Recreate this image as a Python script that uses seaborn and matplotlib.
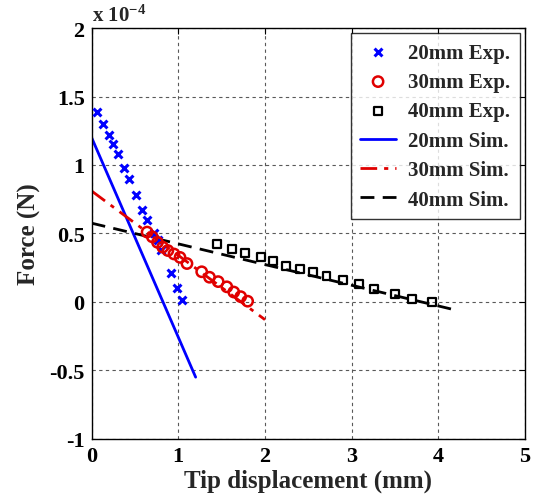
import matplotlib
matplotlib.use("Agg")
import matplotlib.pyplot as plt
import seaborn as sns
import pandas as pd

# Experimental force vs. tip displacement (force in units of 1e-4 N)
x20_exp = [0.065, 0.13, 0.195, 0.245, 0.30, 0.37, 0.43, 0.51, 0.58, 0.64, 0.72, 0.76, 0.80, 0.91, 0.985, 1.04]
f20_exp = [1.39, 1.30, 1.22, 1.15, 1.08, 0.975, 0.90, 0.78, 0.67, 0.595, 0.50, 0.45, 0.38, 0.214, 0.10, 0.015]

x30_exp = [0.64, 0.70, 0.76, 0.82, 0.88, 0.95, 1.02, 1.10, 1.27, 1.36, 1.46, 1.56, 1.64, 1.72, 1.80]
f30_exp = [0.51, 0.475, 0.435, 0.40, 0.375, 0.35, 0.325, 0.28, 0.22, 0.18, 0.148, 0.11, 0.072, 0.038, 0.005]

x40_exp = [1.45, 1.62, 1.77, 1.95, 2.09, 2.24, 2.40, 2.555, 2.71, 2.90, 3.08, 3.26, 3.50, 3.70, 3.93]
f40_exp = [0.423, 0.385, 0.355, 0.326, 0.30, 0.265, 0.238, 0.22, 0.19, 0.16, 0.13, 0.095, 0.058, 0.02, 0.002]

# Simulated (linear) responses
x20_sim = [0.0, 1.2]
f20_sim = [1.20, -0.55]
x30_sim = [0.0, 2.0]
f30_sim = [0.81, -0.13]
x40_sim = [0.0, 4.2]
f40_sim = [0.575, -0.06]

x_ticks = [0, 1, 2, 3, 4, 5]
y_ticks = [-1, -0.5, 0, 0.5, 1, 1.5, 2]
y_tick_labels = ["-1", "-0.5", "0", "0.5", "1", "1.5", "2"]

sns.set_theme(style="white")
plt.rcParams["font.family"] = ["Liberation Serif", "DejaVu Serif"]
plt.rcParams["font.weight"] = "bold"
plt.rcParams["mathtext.fontset"] = "custom"
plt.rcParams["mathtext.rm"] = "Liberation Serif:bold"
plt.rcParams["mathtext.it"] = "Liberation Serif:bold"
plt.rcParams["mathtext.bf"] = "Liberation Serif:bold"

exp = pd.concat([
    pd.DataFrame({"x": x20_exp, "f": f20_exp, "s": "20mm Exp."}),
    pd.DataFrame({"x": x30_exp, "f": f30_exp, "s": "30mm Exp."}),
    pd.DataFrame({"x": x40_exp, "f": f40_exp, "s": "40mm Exp."}),
])
sim = {
    "20mm Sim.": (x20_sim, f20_sim, "#0000ff", "-"),
    "30mm Sim.": (x30_sim, f30_sim, "#e00000", (0, (6, 2.5, 1.5, 2.5))),
    "40mm Sim.": (x40_sim, f40_sim, "black", (0, (5, 3))),
}

fig = plt.figure(figsize=(5.39, 5.02), dpi=100)
ax = fig.add_axes([0.170, 0.124, 0.804, 0.818])

ax.grid(True, color="0.35", linestyle=(0, (3, 3)), linewidth=0.8)
ax.set_axisbelow(True)

sns.scatterplot(data=exp[exp.s == "20mm Exp."], x="x", y="f", ax=ax, marker="x",
                color="#0000ff", s=32, linewidth=2.2, label="20mm Exp.", zorder=3)
sns.scatterplot(data=exp[exp.s == "30mm Exp."], x="x", y="f", ax=ax, marker="o",
                facecolor="none", edgecolor="#e00000", s=55, linewidth=1.8,
                label="30mm Exp.", zorder=3)
sns.scatterplot(data=exp[exp.s == "40mm Exp."], x="x", y="f", ax=ax, marker="s",
                facecolor="none", edgecolor="black", s=32, linewidth=1.6,
                label="40mm Exp.", zorder=3)

for name, (xs, fs, col, ls) in sim.items():
    sns.lineplot(x=xs, y=fs, ax=ax, color=col, linestyle=ls, linewidth=2.0,
                 label=name, zorder=2)

ax.set_xlim(0, 5)
ax.set_ylim(-1, 2)
ax.set_xticks(x_ticks)
ax.set_xticklabels([str(t) for t in x_ticks])
ax.set_yticks(y_ticks)
ax.set_yticklabels(y_tick_labels)
ax.tick_params(direction="in", length=4, width=0.8, top=True, right=True,
               labelsize=16, pad=5, colors="black")
for lbl in ax.get_xticklabels() + ax.get_yticklabels():
    lbl.set_fontweight("bold")

for sp in ax.spines.values():
    sp.set_visible(True)
    sp.set_color("black")
    sp.set_linewidth(1.0)

ax.set_xlabel("Tip displacement (mm)", fontsize=18, fontweight="bold", labelpad=2)
ax.set_ylabel("Force (N)", fontsize=18, fontweight="bold", labelpad=6)
ax.text(0.0, 1.005, r"x 10$^{-4}$", transform=ax.transAxes, fontsize=15,
        fontweight="bold", ha="left", va="bottom")

leg = ax.legend(loc="upper right", fontsize=15, frameon=True, fancybox=False,
                edgecolor="black", borderaxespad=0.25, handlelength=1.7,
                labelspacing=0.45, borderpad=0.45, handletextpad=0.6)
leg.get_frame().set_linewidth(1.0)
for t in leg.get_texts():
    t.set_fontweight("bold")

fig.savefig("out.png", dpi=100)
